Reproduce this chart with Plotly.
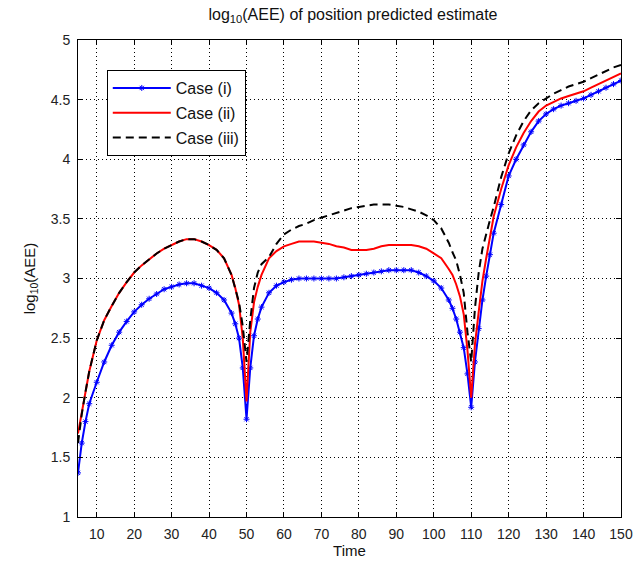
import plotly.graph_objects as go

time = [5, 6, 7, 8, 10, 12, 14, 16, 18, 20, 22, 24, 26, 28, 30, 32, 34, 36, 38, 40,
        42, 44, 46, 47, 48, 49, 50, 51, 52, 53, 54, 56, 58, 60, 62, 64, 66, 68, 70, 72,
        74, 76, 78, 80, 82, 84, 86, 88, 90, 92, 94, 96, 98, 100, 102, 104, 105, 106, 107, 108,
        109, 110, 111, 112, 113, 114, 115, 116, 118, 120, 122, 124, 126, 128, 130, 132, 134, 136, 138, 140,
        142, 144, 146, 148, 150]

case_i = [1.37, 1.62, 1.80, 1.95, 2.13, 2.30, 2.44, 2.55, 2.64, 2.72, 2.78, 2.83, 2.87, 2.91, 2.93, 2.95, 2.96, 2.96, 2.94, 2.92,
          2.88, 2.82, 2.71, 2.62, 2.50, 2.25, 1.82, 2.25, 2.52, 2.66, 2.76, 2.88, 2.94, 2.97, 2.99, 3.00, 3.00, 3.00, 3.00, 3.00,
          3.00, 3.01, 3.02, 3.03, 3.04, 3.05, 3.06, 3.07, 3.07, 3.07, 3.07, 3.05, 3.02, 2.98, 2.92, 2.82, 2.75, 2.66, 2.55, 2.42,
          2.20, 1.92, 2.30, 2.58, 2.82, 3.02, 3.20, 3.38, 3.62, 3.86, 4.00, 4.12, 4.23, 4.32, 4.38, 4.42, 4.45, 4.47, 4.49, 4.51,
          4.54, 4.57, 4.60, 4.63, 4.66]

case_ii = [1.70, 1.88, 2.05, 2.22, 2.48, 2.65, 2.77, 2.88, 2.97, 3.05, 3.11, 3.16, 3.21, 3.25, 3.28, 3.31, 3.33, 3.33, 3.31, 3.28,
           3.24, 3.17, 3.03, 2.92, 2.78, 2.50, 1.97, 2.55, 2.80, 2.93, 3.03, 3.17, 3.23, 3.27, 3.29, 3.31, 3.31, 3.31, 3.30, 3.29,
           3.27, 3.26, 3.24, 3.24, 3.24, 3.25, 3.27, 3.28, 3.28, 3.28, 3.28, 3.27, 3.25, 3.21, 3.17, 3.08, 3.03, 2.95, 2.85, 2.70,
           2.40, 2.00, 2.45, 2.72, 2.98, 3.17, 3.36, 3.52, 3.75, 3.95, 4.10, 4.22, 4.32, 4.40, 4.45, 4.48, 4.51, 4.53, 4.55, 4.57,
           4.60, 4.63, 4.66, 4.69, 4.72]

case_iii = [1.62, 1.86, 2.05, 2.22, 2.48, 2.65, 2.77, 2.88, 2.97, 3.05, 3.11, 3.16, 3.21, 3.25, 3.28, 3.31, 3.33, 3.33, 3.31, 3.28,
            3.24, 3.17, 3.03, 2.92, 2.80, 2.60, 2.30, 2.65, 2.92, 3.05, 3.12, 3.18, 3.29, 3.37, 3.41, 3.44, 3.46, 3.49, 3.51, 3.53,
            3.55, 3.57, 3.59, 3.60, 3.61, 3.62, 3.62, 3.62, 3.61, 3.60, 3.58, 3.56, 3.53, 3.49, 3.42, 3.30, 3.22, 3.15, 3.03, 2.88,
            2.55, 2.30, 2.75, 3.05, 3.25, 3.38, 3.49, 3.60, 3.85, 4.05, 4.20, 4.32, 4.41, 4.47, 4.51, 4.55, 4.58, 4.61, 4.63, 4.65,
            4.68, 4.71, 4.74, 4.77, 4.79]

x_ticks = [10, 20, 30, 40, 50, 60, 70, 80, 90, 100, 110, 120, 130, 140, 150]
y_ticks = [1, 1.5, 2, 2.5, 3, 3.5, 4, 4.5, 5]
y_tick_labels = ["1", "1.5", "2", "2.5", "3", "3.5", "4", "4.5", "5"]

FONT = "Liberation Sans, Arial, sans-serif"

fig = go.Figure()
fig.add_trace(go.Scatter(
    x=time, y=case_i, name="Case (i)", mode="lines+markers", legendgroup="a",
    line=dict(color="#0000FF", width=2),
    marker=dict(symbol="asterisk-open", size=5, color="#0000FF", line=dict(color="#0000FF", width=1)),
))
fig.add_trace(go.Scatter(
    x=time, y=case_ii, name="Case (ii)", mode="lines", legendgroup="b",
    line=dict(color="#FF0000", width=2),
))
fig.add_trace(go.Scatter(
    x=time, y=case_iii, name="Case (iii)", mode="lines", legendgroup="c",
    line=dict(color="#000000", width=2, dash="8px,5px"),
))

axis_common = dict(
    showline=True, linecolor="black", linewidth=1, mirror="ticks",
    ticks="inside", ticklen=5, tickcolor="black",
    showgrid=True, gridcolor="black", gridwidth=1, griddash="1px,3px",
    zeroline=False, automargin=False,
    tickfont=dict(family=FONT, size=14, color="#222222"),
)

fig.update_layout(
    width=636, height=567,
    paper_bgcolor="white", plot_bgcolor="white",
    margin=dict(l=78, r=15, t=40, b=50),
    title=dict(
        text="log<sub>10</sub>(AEE) of position predicted estimate",
        x=0.555, xanchor="center", y=0.985, yanchor="top",
        font=dict(family=FONT, size=16, color="#111111"),
    ),
    font=dict(family=FONT, color="#111111"),
    legend=dict(
        x=0.053, y=0.937, xanchor="left", yanchor="top",
        bgcolor="white", bordercolor="black", borderwidth=1,
        font=dict(family=FONT, size=16, color="#111111"),
        traceorder="grouped", tracegroupgap=1, itemwidth=58,
    ),
    showlegend=True,
)
fig.update_xaxes(
    range=[5, 150], tickvals=x_ticks, ticklabelstandoff=4,
    title=dict(text="Time", font=dict(family=FONT, size=15), standoff=2),
    **axis_common,
)
fig.update_yaxes(
    range=[1, 5], tickvals=y_ticks, ticktext=y_tick_labels, ticklabelstandoff=4,
    title=dict(text="log<sub>10</sub>(AEE)", font=dict(family=FONT, size=15), standoff=11),
    **axis_common,
)

fig.write_html("out.html", config={"displayModeBar": False},
               post_script="document.body.style.margin='0px';")
